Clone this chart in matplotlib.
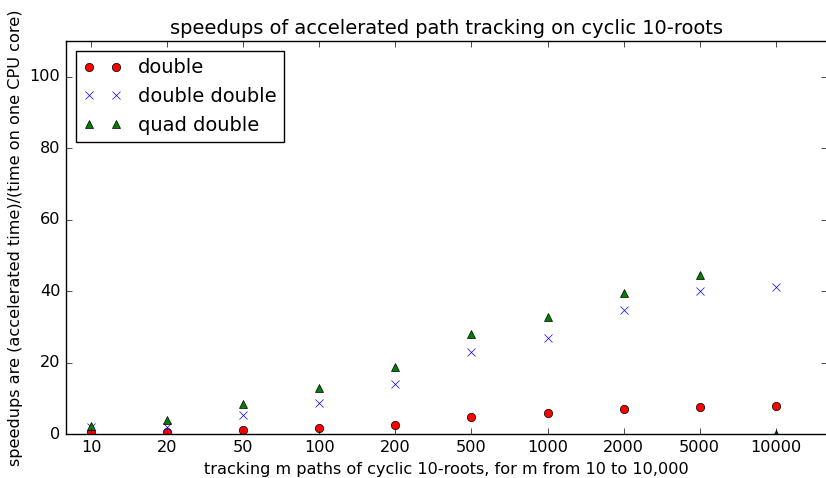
import matplotlib
matplotlib.use("Agg")
import matplotlib.pyplot as plt

plt.style.use('classic')
plt.rcParams['font.size'] = 11.6

paths = ['10', '20', '50', '100', '200', '500', '1000', '2000', '5000', '10000']
double = [0.7, 0.5, 1.1, 1.7, 2.5, 4.8, 5.9, 6.9, 7.7, 7.9]
dbldbl = [1.9, 1.9, 5.4, 8.8, 14.0, 23.0, 27.0, 34.6, 39.9, 41.1]
quaddbl = [2.3, 3.9, 8.3, 13.0, 18.8, 27.9, 32.8, 39.6, 44.6, 0.0]

fig = plt.figure(figsize=(8.26, 4.78), dpi=100)
ax = fig.add_axes([0.0799, 0.092, 0.921, 0.8222])

x = range(len(paths))
ax.plot(x, double, 'ro', label='double')
ax.plot(x, dbldbl, 'bx', label='double double')
ax.plot(x, quaddbl, 'g^', label='quad double')

ax.set_xticks(list(x))
ax.set_xticklabels(paths)
ax.set_xlim(-0.33, 9.67)
ax.set_ylim(0, 110)
ax.set_title('speedups of accelerated path tracking on cyclic 10-roots')
ax.set_xlabel('tracking m paths of cyclic 10-roots, for m from 10 to 10,000')
ax.set_ylabel('speedups are (accelerated time)/(time on one CPU core)')
ax.legend(loc='upper left')

fig.savefig('out.png', dpi=100)
